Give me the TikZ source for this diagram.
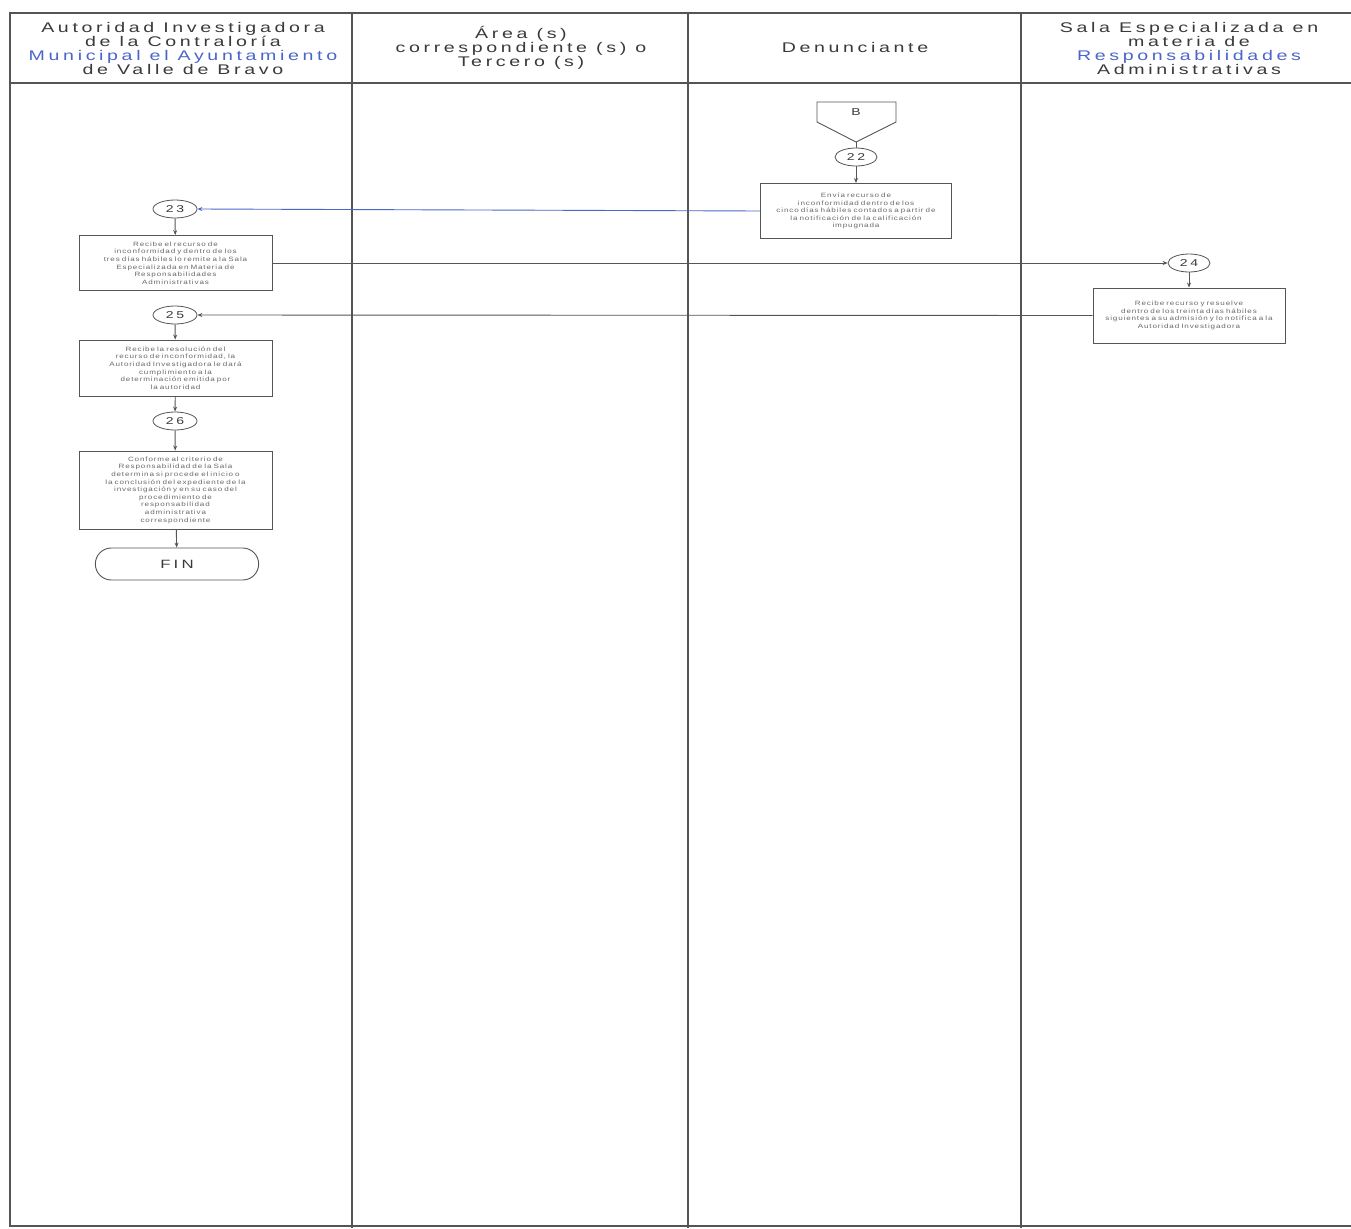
\documentclass[tikz,border=0pt]{standalone}
\usepackage{fontspec}
\setmainfont{Liberation Sans}
\newfontfamily\widefont[FakeStretch=1.4,LetterSpace=26]{Liberation Sans}
\newfontfamily\boxfont[FakeStretch=1.3,LetterSpace=14,WordSpace=2.2]{Liberation Sans}
\usetikzlibrary{arrows.meta,shapes.geometric,shapes.misc}
\definecolor{ln}{HTML}{555555}
\definecolor{tx}{HTML}{3A3A3A}
\definecolor{bx}{HTML}{6A6A6A}
\definecolor{bl}{HTML}{4A66C8}
\tikzset{
  lane/.style={draw=ln,line width=1.2pt},
  stepbox/.style={draw=ln,line width=0.9pt,rectangle,minimum width=193pt,minimum height=55pt,align=center,text width=187pt,font=\boxfont\fontsize{6.2}{7.6}\selectfont,text=bx,inner sep=2pt},
  numell/.style={draw=ln,line width=0.8pt,ellipse,minimum width=42pt,minimum height=18pt,inner sep=0pt,font=\widefont\fontsize{10}{10}\selectfont,text=tx},
  hdr/.style={align=center,font=\widefont\fontsize{14}{14}\selectfont,text=tx},
  conn/.style={draw=ln,line width=0.9pt,-{Stealth[length=5pt,width=4pt]}},
  connb/.style={draw=bl,line width=0.9pt,-{Stealth[length=5pt,width=4pt]}},
}
\begin{document}
\begin{tikzpicture}[x=1pt,y=-1pt]
\useasboundingbox (0,0) rectangle (1351,1228);
\fill[white] (0,0) rectangle (1351,1228);
% lanes
\draw[lane] (1351,13) -- (10,13) -- (10,1226) -- (1351,1226);
\draw[lane] (10,83) -- (1351,83);
\draw[lane] (352,13) -- (352,1228);
\draw[lane] (688,13) -- (688,1228);
\draw[lane] (1021,13) -- (1021,1228);
% headers
\node[hdr] (h1) at (183,48) {Autoridad Investigadora\\de la Contraloría\\\textcolor{bl}{Municipal el Ayuntamiento}\\de Valle de Bravo};
\node[hdr] (h2) at (521,48) {Área (s)\\correspondiente (s) o\\Tercero (s)};
\node[hdr] (h3) at (855,47) {Denunciante};
\node[hdr] (h4) at (1189,48) {Sala Especializada en\\materia de\\\textcolor{bl}{Responsabilidades}\\Administrativas};
% connector B
\draw[draw=ln,line width=0.9pt] (817,102) -- (896,102) -- (896,122) -- (856,142) -- (817,122) -- cycle;
\node[font=\widefont\fontsize{10}{10}\selectfont,text=tx] (B) at (856,112) {B};
\coordinate (Bp) at (856,142);
% steps
\node[numell] (n22) at (856,157) {22};
\node[stepbox,minimum width=190pt] (s22) at (856,211) {Envía recurso de\\inconformidad dentro de los\\cinco días hábiles contados a partir de\\la notificación de la calificación\\impugnada};
\node[numell,minimum width=44pt] (n23) at (175,209) {23};
\node[stepbox] (s23) at (175.5,263) {Recibe el recurso de\\inconformidad y dentro de los\\tres días hábiles lo remite a la Sala\\Especializada en Materia de\\Responsabilidades\\Administrativas};
\node[numell] (n24) at (1189,263) {24};
\node[stepbox,minimum width=192pt] (s24) at (1189,315.5) {Recibe recurso y resuelve\\dentro de los treinta días hábiles\\siguientes a su admisión y lo notifica a la\\Autoridad Investigadora};
\node[numell,minimum width=44pt] (n25) at (175,315) {25};
\node[stepbox,minimum height=56pt] (s25) at (175.5,368) {Recibe la resolución del\\recurso de inconformidad, la\\Autoridad Investigadora le dará\\cumplimiento a la\\determinación emitida por\\la autoridad};
\node[numell,minimum width=44pt] (n26) at (175,421) {26};
\node[stepbox,minimum height=78pt] (s26) at (175.5,490) {Conforme al criterio de\\Responsabilidad de la Sala\\determina si procede el inicio o\\la conclusión del expediente de la\\investigación y en su caso del\\procedimiento de\\responsabilidad\\administrativa\\correspondiente};
\node[draw=ln,line width=0.9pt,rounded rectangle,minimum width=170pt,minimum height=32pt,font=\widefont\fontsize{12}{12}\selectfont,text=tx] (fin) at (177,564) {FIN};
% connectors
\draw[draw=ln,line width=0.9pt] (Bp) -- (n22);
\draw[conn] (n22) -- (s22);
\draw[connb] (s22.west) -- (n23.east);
\draw[conn] (n23) -- (s23);
\draw[conn] (s23.east) -- (n24.west);
\draw[conn] (n24) -- (s24);
\draw[conn] (s24.west) -- (n25.east);
\draw[conn] (n25) -- (s25);
\draw[conn] (s25) -- (n26);
\draw[conn] (n26) -- (s26);
\draw[conn] (s26) -- (fin);
\end{tikzpicture}
\end{document}
